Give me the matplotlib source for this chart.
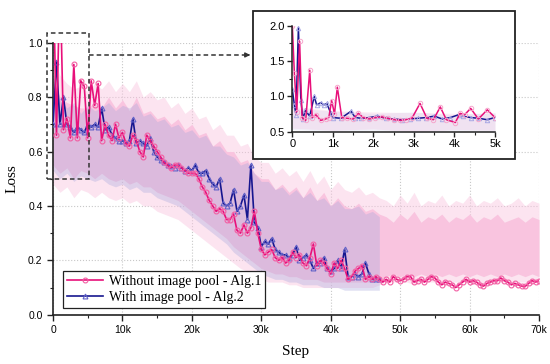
import numpy as np
import matplotlib
matplotlib.use('Agg')
import matplotlib.pyplot as plt
from matplotlib.patches import Rectangle
from matplotlib.lines import Line2D
from matplotlib.ticker import MultipleLocator

plt.rcParams['font.family'] = ['Liberation Sans', 'DejaVu Sans']

SERIF = 'Liberation Serif'
label_a = 'Without image pool - Alg.1'
label_b = 'With image pool - Alg.2'

# smoothed curves, one value every 500 steps
step_a = np.arange(0, 70001, 500)
loss_a = [1.30, 0.66, 1.25, 0.68, 0.72, 0.65, 0.92, 0.65, 0.86, 0.84,
          0.65, 0.86, 0.77, 0.85, 0.64, 0.70, 0.66, 0.64, 0.70, 0.65,
          0.67, 0.63, 0.62, 0.66, 0.64, 0.60, 0.58, 0.66, 0.64, 0.62,
          0.60, 0.58, 0.56, 0.55, 0.54, 0.55, 0.55, 0.54, 0.53, 0.52,
          0.52, 0.52, 0.50, 0.47, 0.45, 0.42, 0.40, 0.38, 0.39, 0.38,
          0.35, 0.35, 0.37, 0.31, 0.30, 0.33, 0.30, 0.32, 0.38, 0.30,
          0.24, 0.22, 0.23, 0.24, 0.21, 0.20, 0.21, 0.19, 0.20, 0.23,
          0.21, 0.22, 0.19, 0.18, 0.21, 0.26, 0.18, 0.20, 0.19, 0.17,
          0.15, 0.19, 0.17, 0.20, 0.17, 0.13, 0.14, 0.16, 0.17, 0.18,
          0.13, 0.14, 0.13, 0.14, 0.13, 0.12, 0.13, 0.12, 0.14, 0.13,
          0.125, 0.13, 0.14, 0.14, 0.12, 0.125, 0.13, 0.12, 0.13, 0.14,
          0.135, 0.12, 0.11, 0.12, 0.115, 0.11, 0.10, 0.11, 0.12, 0.13,
          0.12, 0.125, 0.12, 0.11, 0.105, 0.115, 0.12, 0.125, 0.125, 0.135,
          0.125, 0.12, 0.11, 0.115, 0.11, 0.105, 0.104, 0.115, 0.125, 0.12, 0.125]

step_b = np.arange(0, 47001, 500)
loss_b = [0.70, 0.93, 0.70, 0.80, 0.70, 0.69, 0.67, 0.69, 0.68, 0.67,
          0.70, 0.69, 0.70, 0.69, 0.76, 0.68, 0.69, 0.66, 0.65, 0.64,
          0.64, 0.63, 0.64, 0.72, 0.63, 0.64, 0.63, 0.62, 0.65, 0.60,
          0.58, 0.57, 0.56, 0.55, 0.545, 0.54, 0.55, 0.54, 0.53, 0.54,
          0.53, 0.55, 0.52, 0.52, 0.53, 0.50, 0.48, 0.47, 0.50, 0.41,
          0.40, 0.41, 0.46, 0.38, 0.40, 0.44, 0.35, 0.55, 0.34, 0.32,
          0.25, 0.27, 0.26, 0.28, 0.24, 0.23, 0.22, 0.22, 0.21, 0.22,
          0.25, 0.20, 0.21, 0.22, 0.20, 0.17, 0.19, 0.19, 0.21, 0.17,
          0.16, 0.17, 0.20, 0.17, 0.24, 0.14, 0.14, 0.15, 0.14, 0.15,
          0.19, 0.15, 0.13, 0.13, 0.13]

# raw (unsmoothed) loss, dense band edges every 1000 steps
raw_step_a = np.arange(0, 70001, 1000)
raw_hi_a = [0.86, 0.80, 0.78, 0.77, 0.76, 0.76, 0.78, 0.76, 0.80, 0.76,
            0.79, 0.75, 0.80, 0.74, 0.75, 0.72, 0.73, 0.70, 0.72, 0.68,
            0.70, 0.66, 0.67, 0.62, 0.64, 0.60, 0.60, 0.56, 0.57, 0.52,
            0.50, 0.50, 0.46, 0.48, 0.45, 0.47, 0.43, 0.47, 0.42, 0.45,
            0.40, 0.43, 0.40, 0.39, 0.41, 0.38, 0.39, 0.37, 0.36, 0.34,
            0.37, 0.35, 0.38, 0.34, 0.36, 0.35, 0.37, 0.34, 0.36, 0.35,
            0.37, 0.34, 0.36, 0.35, 0.37, 0.34, 0.35, 0.36, 0.34, 0.36, 0.35]
raw_lo_a = [0.55, 0.52, 0.54, 0.50, 0.53, 0.52, 0.50, 0.52, 0.50, 0.49,
            0.50, 0.48, 0.49, 0.47, 0.47, 0.45, 0.44, 0.43, 0.42, 0.40,
            0.38, 0.36, 0.34, 0.32, 0.30, 0.28, 0.25, 0.23, 0.21, 0.19,
            0.17, 0.16, 0.15, 0.15, 0.14, 0.14, 0.13, 0.13, 0.13, 0.12,
            0.12, 0.12, 0.12, 0.12, 0.12, 0.12, 0.12, 0.13, 0.14, 0.15,
            0.14, 0.15, 0.14, 0.15, 0.14, 0.15, 0.14, 0.15, 0.14, 0.15,
            0.14, 0.15, 0.14, 0.15, 0.14, 0.15, 0.14, 0.15, 0.14, 0.15, 0.14]
# how far the single spikes reach
spike_hi_a = [0.95, 0.88, 0.85, 0.83, 0.84, 0.82, 0.85, 0.83, 0.86, 0.82,
              0.85, 0.82, 0.86, 0.80, 0.82, 0.79, 0.80, 0.76, 0.78, 0.74,
              0.76, 0.72, 0.73, 0.68, 0.70, 0.66, 0.66, 0.62, 0.63, 0.58,
              0.56, 0.56, 0.52, 0.54, 0.51, 0.53, 0.49, 0.53, 0.48, 0.51,
              0.46, 0.49, 0.46, 0.45, 0.47, 0.44, 0.45, 0.43, 0.42, 0.40,
              0.44, 0.41, 0.45, 0.40, 0.42, 0.41, 0.44, 0.40, 0.42, 0.41,
              0.44, 0.40, 0.42, 0.41, 0.43, 0.40, 0.41, 0.43, 0.40, 0.42, 0.41]
spike_lo_a = [0.48, 0.45, 0.47, 0.43, 0.46, 0.45, 0.43, 0.45, 0.43, 0.42,
              0.43, 0.41, 0.42, 0.40, 0.40, 0.38, 0.37, 0.36, 0.35, 0.33,
              0.31, 0.29, 0.27, 0.25, 0.23, 0.21, 0.19, 0.17, 0.16, 0.15,
              0.13, 0.12, 0.12, 0.12, 0.11, 0.11, 0.10, 0.10, 0.10, 0.10,
              0.10, 0.10, 0.10, 0.10, 0.10, 0.10, 0.10, 0.11, 0.12, 0.12,
              0.12, 0.12, 0.11, 0.12, 0.12, 0.12, 0.11, 0.12, 0.12, 0.12,
              0.12, 0.12, 0.11, 0.12, 0.12, 0.12, 0.11, 0.12, 0.12, 0.12, 0.12]

raw_step_b = np.arange(0, 47001, 1000)
raw_hi_b = [0.84, 0.79, 0.76, 0.78, 0.74, 0.77, 0.75, 0.76, 0.78, 0.75,
            0.77, 0.76, 0.78, 0.73, 0.74, 0.71, 0.72, 0.69, 0.70, 0.67,
            0.68, 0.65, 0.66, 0.62, 0.62, 0.59, 0.58, 0.55, 0.56, 0.52,
            0.49, 0.49, 0.46, 0.47, 0.44, 0.46, 0.43, 0.45, 0.42, 0.43,
            0.40, 0.42, 0.39, 0.39, 0.40, 0.37, 0.38, 0.36]
raw_lo_b = [0.53, 0.50, 0.52, 0.49, 0.51, 0.50, 0.49, 0.50, 0.48, 0.47,
            0.48, 0.46, 0.47, 0.45, 0.45, 0.43, 0.42, 0.41, 0.40, 0.38,
            0.36, 0.34, 0.32, 0.30, 0.28, 0.26, 0.23, 0.21, 0.19, 0.17,
            0.15, 0.14, 0.13, 0.13, 0.12, 0.12, 0.11, 0.11, 0.11, 0.10,
            0.10, 0.10, 0.09, 0.09, 0.09, 0.09, 0.09, 0.09]

# zoomed view of the first 5k steps
zoom_step_a = [0, 50, 110, 180, 240, 330, 430, 490, 580, 700,
               820, 900, 970, 1040, 1110, 1220, 1350, 1500, 1630, 1750,
               1900, 2050, 2200, 2350, 2500, 2650, 2800, 2950, 3150, 3320,
               3480, 3650, 3800, 4020, 4140, 4250, 4400, 4590, 4810, 5000]
zoom_loss_a = [2.0, 1.33, 0.78, 1.78, 0.70, 0.66, 1.37, 0.70, 0.74, 0.66,
               0.68, 0.70, 0.94, 0.75, 1.13, 0.70, 0.69, 0.68, 0.76, 0.70,
               0.68, 0.70, 0.71, 0.69, 0.67, 0.66, 0.67, 0.69, 0.90, 0.69,
               0.67, 0.85, 0.67, 0.63, 0.76, 0.74, 0.83, 0.68, 0.81, 0.70]
zoom_step_b = [0, 50, 90, 150, 210, 260, 320, 430, 540, 600,
               700, 780, 850, 950, 1000, 1200, 1450, 1550, 1700, 1900,
               2100, 2300, 2500, 2700, 2900, 3100, 3300, 3500, 3700, 3900,
               4100, 4200, 4400, 4600, 4800, 5000]
zoom_loss_b = [1.10, 0.88, 0.74, 1.97, 0.95, 0.68, 0.80, 0.72, 1.00, 0.88,
               0.91, 0.88, 0.90, 0.76, 0.70, 0.69, 0.79, 0.70, 0.69, 0.70,
               0.72, 0.69, 0.68, 0.67, 0.68, 0.69, 0.70, 0.72, 0.68, 0.70,
               0.74, 0.72, 0.70, 0.69, 0.67, 0.70]

x_ticks = [0, 10000, 20000, 30000, 40000, 50000, 60000, 70000]
x_labels = ['0', '10k', '20k', '30k', '40k', '50k', '60k', '70k']
zoom_x_ticks = [0, 1000, 2000, 3000, 4000, 5000]
zoom_x_labels = ['0', '1k', '2k', '3k', '4k', '5k']

PINK = '#e8107a'
PINK_MK = '#f25ea3'
BLUE = '#16168f'
BLUE_MK = '#6262c8'
PINK_RAW = '#f9c4df'
BLUE_RAW = '#a8a8dc'

fig = plt.figure(figsize=(5.5, 3.64), dpi=100)

# main axes
ax = fig.add_axes([0.0964, 0.1354, 0.8836, 0.7473])
ax.fill_between(raw_step_a, spike_lo_a, spike_hi_a, color=PINK_RAW, alpha=0.45, lw=0, zorder=1)
ax.fill_between(raw_step_a, raw_lo_a, raw_hi_a, color=PINK_RAW, lw=0, zorder=1.2)
ax.fill_between(raw_step_b, raw_lo_b, raw_hi_b, color=BLUE_RAW, alpha=0.35, lw=0, zorder=1.5)
ax.plot(step_b, loss_b, color=BLUE, lw=1.2, marker='^', ms=3.5, mfc='none',
        mec=BLUE_MK, mew=0.8, zorder=3, label=label_b)
ax.plot(step_a, loss_a, color=PINK, lw=1.2, marker='o', ms=3.5, mfc='none',
        mec=PINK_MK, mew=0.8, zorder=4, label=label_a)

ax.set_xlim(0, 70000)
ax.set_ylim(0, 1.0)
ax.set_xticks(x_ticks)
ax.set_xticklabels(x_labels)
ax.set_yticks([0.0, 0.2, 0.4, 0.6, 0.8, 1.0])
ax.xaxis.set_minor_locator(MultipleLocator(5000))
ax.yaxis.set_minor_locator(MultipleLocator(0.1))
ax.tick_params(which='major', direction='out', length=4, width=1.0, labelsize=7.5, color='#222222')
ax.tick_params(which='minor', direction='out', length=2.5, width=0.8, color='#222222')
for s in ['top', 'right']:
    ax.spines[s].set_visible(False)
for s in ['left', 'bottom']:
    ax.spines[s].set_linewidth(1.2)
    ax.spines[s].set_color('#222222')
ax.grid(True, which='major', linestyle=':', color='#c8c8c8', lw=0.8)
ax.set_axisbelow(True)

ax.set_ylabel('Loss', family=SERIF, fontsize=11)
ax.yaxis.set_label_coords(-0.071, 0.5)
ax.set_xlabel('Step', family=SERIF, fontsize=11)
ax.xaxis.set_label_coords(0.5, -0.111)

handles, labels = ax.get_legend_handles_labels()
leg = ax.legend(handles[::-1], labels[::-1], loc='lower left', bbox_to_anchor=(0.0206, 0.0246),
                borderaxespad=0, fancybox=False, edgecolor='#222222', framealpha=1,
                prop={'family': SERIF, 'size': 10}, handlelength=2.6, handletextpad=0.4,
                labelspacing=0.2, borderpad=0.3, numpoints=1)
leg.get_frame().set_linewidth(0.9)

# dashed box marking the zoomed region
ax.add_patch(Rectangle((-900, 0.5), 6100, 0.535, fill=False, ls=(0, (3, 2)),
                       edgecolor='#333333', lw=1.1, clip_on=False, zorder=6))

# dashed pointer towards the inset
fig.add_artist(Line2D([0.1618, 0.448], [0.849, 0.849], ls=(0, (3, 2)), color='#333333', lw=1.1))
ax.annotate('', xy=(0.46, 0.849), xycoords='figure fraction', xytext=(0.445, 0.849),
            textcoords='figure fraction',
            arrowprops=dict(arrowstyle='-|>', color='#333333', lw=1.0, mutation_scale=7))

# inset frame and axes
fig.patches.append(Rectangle((0.46, 0.5632), 0.4764, 0.4066, transform=fig.transFigure,
                             facecolor='white', edgecolor='#222222', lw=1.3, zorder=1))
ins = fig.add_axes([0.5315, 0.6382, 0.3685, 0.2912])
ins.set_zorder(3)
ins.patch.set_alpha(0)
ins.fill_between(raw_step_a[:6], raw_lo_a[:6], raw_hi_a[:6], color=PINK_RAW, alpha=0.3, lw=0)
ins.fill_between(raw_step_b[:6], raw_lo_b[:6], raw_hi_b[:6], color=BLUE_RAW, alpha=0.15, lw=0)
ins.plot(zoom_step_b, zoom_loss_b, color=BLUE, lw=1.1, marker='^', ms=3.2, mfc='none',
         mec='#a8a8e4', mew=0.7)
ins.plot(zoom_step_a, zoom_loss_a, color=PINK, lw=1.1, marker='o', ms=3.2, mfc='none',
         mec='#f6a6cc', mew=0.7)
ins.set_xlim(0, 5000)
ins.set_ylim(0.5, 2.0)
ins.set_xticks(zoom_x_ticks)
ins.set_xticklabels(zoom_x_labels)
ins.set_yticks([0.5, 1.0, 1.5, 2.0])
ins.xaxis.set_minor_locator(MultipleLocator(500))
ins.yaxis.set_minor_locator(MultipleLocator(0.25))
ins.tick_params(which='major', direction='out', length=3.5, width=1.0, labelsize=8, color='#222222', pad=2)
ins.tick_params(which='minor', direction='out', length=2, width=0.8, color='#222222')
for s in ['top', 'right']:
    ins.spines[s].set_visible(False)
for s in ['left', 'bottom']:
    ins.spines[s].set_linewidth(1.1)
    ins.spines[s].set_color('#222222')

fig.savefig('out.png', dpi=100)
